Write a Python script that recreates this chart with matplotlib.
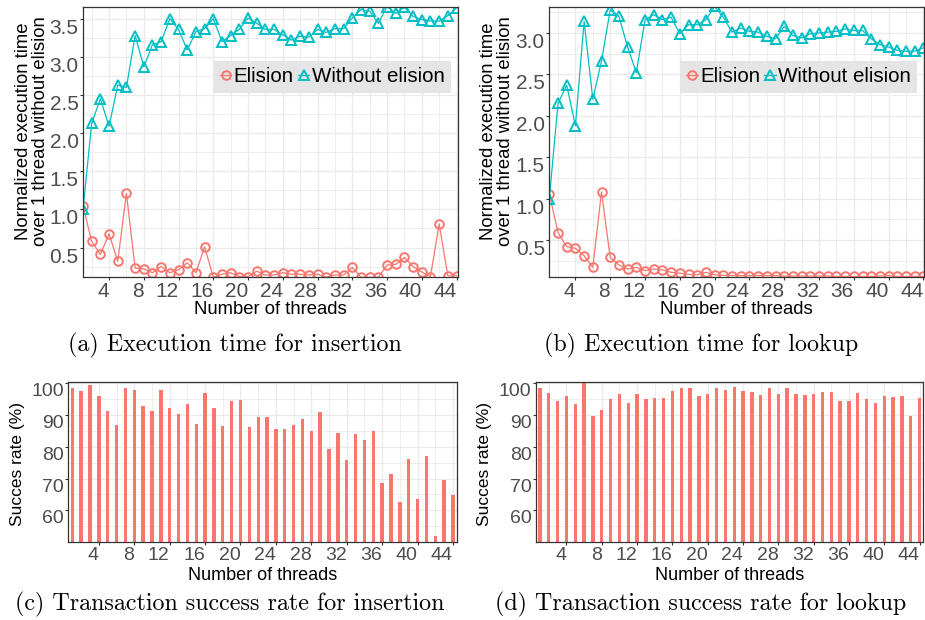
import numpy as np
import matplotlib
matplotlib.use("Agg")
import matplotlib.pyplot as plt
from matplotlib.lines import Line2D
from matplotlib.ticker import FixedLocator, FormatStrFormatter

plt.rcParams['font.family'] = ['Liberation Sans', 'DejaVu Sans']

# ---------------- data ----------------
threads = np.arange(1, 45)

insert_elision = [1.05, 0.58, 0.41, 0.68, 0.32, 1.21, 0.23, 0.22, 0.17, 0.25,
                  0.17, 0.21, 0.30, 0.17, 0.51, 0.11, 0.15, 0.17, 0.12, 0.12,
                  0.19, 0.14, 0.14, 0.17, 0.15, 0.15, 0.14, 0.15, 0.11, 0.14,
                  0.14, 0.24, 0.11, 0.11, 0.11, 0.27, 0.28, 0.37, 0.25, 0.18,
                  0.12, 0.81, 0.13, 0.13]
insert_without = [1.00, 2.13, 2.45, 2.09, 2.63, 2.60, 3.28, 2.87, 3.16, 3.20,
                  3.50, 3.36, 3.09, 3.33, 3.37, 3.50, 3.20, 3.28, 3.36, 3.51,
                  3.44, 3.36, 3.36, 3.29, 3.22, 3.27, 3.26, 3.36, 3.32, 3.37,
                  3.37, 3.51, 3.62, 3.60, 3.44, 3.66, 3.57, 3.65, 3.53, 3.49,
                  3.47, 3.47, 3.54, 3.64]

lookup_elision = [1.06, 0.59, 0.42, 0.40, 0.31, 0.17, 1.08, 0.29, 0.20, 0.15,
                  0.17, 0.13, 0.15, 0.14, 0.11, 0.10, 0.085, 0.08, 0.11, 0.08,
                  0.075, 0.07, 0.07, 0.07, 0.07, 0.07, 0.07, 0.065, 0.065, 0.065,
                  0.065, 0.065, 0.065, 0.06, 0.06, 0.06, 0.06, 0.06, 0.065, 0.07,
                  0.06, 0.06, 0.06, 0.06]
lookup_without = [1.00, 2.15, 2.37, 1.88, 3.14, 2.20, 2.66, 3.28, 3.20, 2.83,
                  2.52, 3.16, 3.22, 3.16, 3.19, 2.99, 3.10, 3.10, 3.16, 3.32,
                  3.19, 3.01, 3.06, 3.02, 3.01, 2.96, 2.93, 3.08, 2.97, 2.94,
                  2.99, 3.00, 3.01, 3.02, 3.05, 3.03, 3.03, 2.93, 2.86, 2.83,
                  2.79, 2.78, 2.78, 2.82]

insert_success = [98.3, 97.4, 99.2, 95.8, 91.1, 86.9, 98.4, 97.9, 92.7, 91.3,
                  97.8, 92.2, 90.3, 93.5, 87.0, 96.8, 92.1, 86.5, 94.4, 94.7,
                  86.1, 89.3, 89.3, 85.6, 85.6, 86.8, 88.8, 84.8, 90.8, 79.3,
                  84.4, 75.7, 84.0, 82.2, 85.0, 68.7, 71.3, 62.5, 76.0, 63.5,
                  77.1, 52.0, 69.5, 64.8]
lookup_success = [98.4, 96.8, 94.3, 95.9, 93.4, 100.0, 89.5, 91.6, 94.9, 96.6,
                  93.8, 96.4, 95.0, 95.3, 95.4, 97.5, 98.4, 98.4, 96.0, 96.6,
                  98.4, 97.8, 98.7, 97.6, 97.3, 96.3, 98.3, 96.6, 98.3, 96.6,
                  96.2, 96.5, 97.1, 97.1, 94.3, 94.2, 96.9, 95.0, 93.6, 95.9,
                  95.6, 95.8, 89.5, 95.3]

series_labels = ["Elision", "Without elision"]
x_title = "Number of threads"
y_title_time = "Normalized execution time\nover 1 thread without elision"
y_title_rate = "Succes rate (%)"
captions = ["(a) Execution time for insertion",
            "(b) Execution time for lookup",
            "(c) Transaction success rate for insertion",
            "(d) Transaction success rate for lookup"]

# ---------------- style ----------------
RED = "#F8766D"
CYAN = "#00BFC4"
GRID = "#EBEBEB"
BORDER = "#333333"
TICKC = "#4D4D4D"
TICK_FS_LINE = 15
TICK_FS_BAR = 14
TITLE_FS = 13.3
BAR_TITLE_FS = 13
RATE_FS = 12.5
LEG_FS = 14.8
CAP_FS = 17.3

W, H = 925, 620
fig = plt.figure(figsize=(W / 100, H / 100), dpi=100)


def px_axes(left, top, right, bottom):
    return fig.add_axes([left / W, 1 - bottom / H, (right - left) / W, (bottom - top) / H])


def style_axes(ax, xlim, ylim, ymaj, ymin, yfmt, fs):
    ax.set_xlim(*xlim)
    ax.set_ylim(*ylim)
    ax.xaxis.set_major_locator(FixedLocator(np.arange(4, 45, 4)))
    ax.xaxis.set_minor_locator(FixedLocator(np.arange(2, 47, 4)))
    ax.yaxis.set_major_locator(FixedLocator(ymaj))
    ax.yaxis.set_minor_locator(FixedLocator(ymin))
    ax.yaxis.set_major_formatter(FormatStrFormatter(yfmt))
    ax.grid(True, which='major', color=GRID, lw=1.0)
    ax.grid(True, which='minor', color=GRID, lw=0.6)
    ax.set_axisbelow(True)
    for s in ax.spines.values():
        s.set_color(BORDER)
        s.set_linewidth(0.9)
    ax.tick_params(which='major', length=2.2, width=0.8, color=BORDER,
                   labelsize=fs, labelcolor=TICKC, pad=1.0)
    ax.tick_params(which='minor', length=0)
    for lab in ax.get_xticklabels():
        lab.set_horizontalalignment('right')
    for lab in ax.get_yticklabels():
        lab.set_verticalalignment('top')


def line_panel(ax, elis, without, xlim, ylim, ymaj, ymin):
    ax.plot(threads, elis, color=RED, lw=0.9, marker='o', ms=6.2, mfc='none',
            mew=1.4, mec=RED, clip_on=True)
    ax.plot(threads, without, color=CYAN, lw=0.9, marker='^', ms=7.2, mfc='none',
            mew=1.4, mec=CYAN, clip_on=True)
    style_axes(ax, xlim, ylim, ymaj, ymin, '%.1f', TICK_FS_LINE)
    handles = [Line2D([], [], color=RED, lw=0.9, marker='o', ms=6.2, mfc='none', mew=1.4),
               Line2D([], [], color=CYAN, lw=0.9, marker='^', ms=7.2, mfc='none', mew=1.4)]
    leg = ax.legend(handles, series_labels, ncol=2, loc='upper right',
                    bbox_to_anchor=(0.981, 0.80), frameon=True, facecolor='#E5E5E5',
                    edgecolor='none', framealpha=1, fancybox=False,
                    handlelength=0.55, handletextpad=0.12, columnspacing=0.2,
                    borderpad=0.3, borderaxespad=0, prop={'size': LEG_FS})
    return leg


def bar_panel(ax, vals):
    ax.bar(threads, vals, width=0.38, color=RED, edgecolor='none')
    style_axes(ax, (0.55, 44.42), (50, 100.2), np.arange(60, 101, 10),
               np.arange(55, 101, 10), '%d', TICK_FS_BAR)


ymaj_time = np.arange(0.5, 3.6, 0.5)
ymin_time = np.arange(0.25, 3.8, 0.5)

ax_a = px_axes(83, 7.3, 458, 277.3)
line_panel(ax_a, insert_elision, insert_without, (1, 44.17), (0.11, 3.65), ymaj_time, ymin_time)

ax_b = px_axes(549.3, 7.3, 924.3, 277.3)
line_panel(ax_b, lookup_elision, lookup_without, (1, 44.1), (0.05, 3.31), ymaj_time, ymin_time)

ax_c = px_axes(68.3, 382.3, 456.7, 542.3)
bar_panel(ax_c, insert_success)

ax_d = px_axes(536, 382.3, 923.3, 542.3)
bar_panel(ax_d, lookup_success)


def ftext(x, y, s, **kw):
    fig.text(x / W, 1 - y / H, s, **kw)


# axis titles
ftext(270.5, 309, x_title, ha='center', va='center', fontsize=TITLE_FS, color='black')
ftext(736.8, 309, x_title, ha='center', va='center', fontsize=TITLE_FS, color='black')
ftext(262.5, 575.5, x_title, ha='center', va='center', fontsize=BAR_TITLE_FS, color='black')
ftext(729.6, 575.5, x_title, ha='center', va='center', fontsize=BAR_TITLE_FS, color='black')

ftext(32, 131, y_title_time, ha='center', va='center', rotation=90, fontsize=TITLE_FS,
      color='black', linespacing=1.0, multialignment='center')
ftext(497, 131, y_title_time, ha='center', va='center', rotation=90, fontsize=TITLE_FS,
      color='black', linespacing=1.0, multialignment='center')
ftext(18, 464, y_title_rate, ha='center', va='center', rotation=90, fontsize=RATE_FS, color='black')
ftext(485, 464, y_title_rate, ha='center', va='center', rotation=90, fontsize=RATE_FS, color='black')

# captions
cap_kw = dict(ha='center', va='center', fontsize=CAP_FS, family='cmr10', color='black')
ftext(235, 345, captions[0], **cap_kw)
ftext(701, 345, captions[1], **cap_kw)
ftext(230, 604, captions[2], **cap_kw)
ftext(701, 604, captions[3], **cap_kw)

fig.savefig("out.png", dpi=100)
